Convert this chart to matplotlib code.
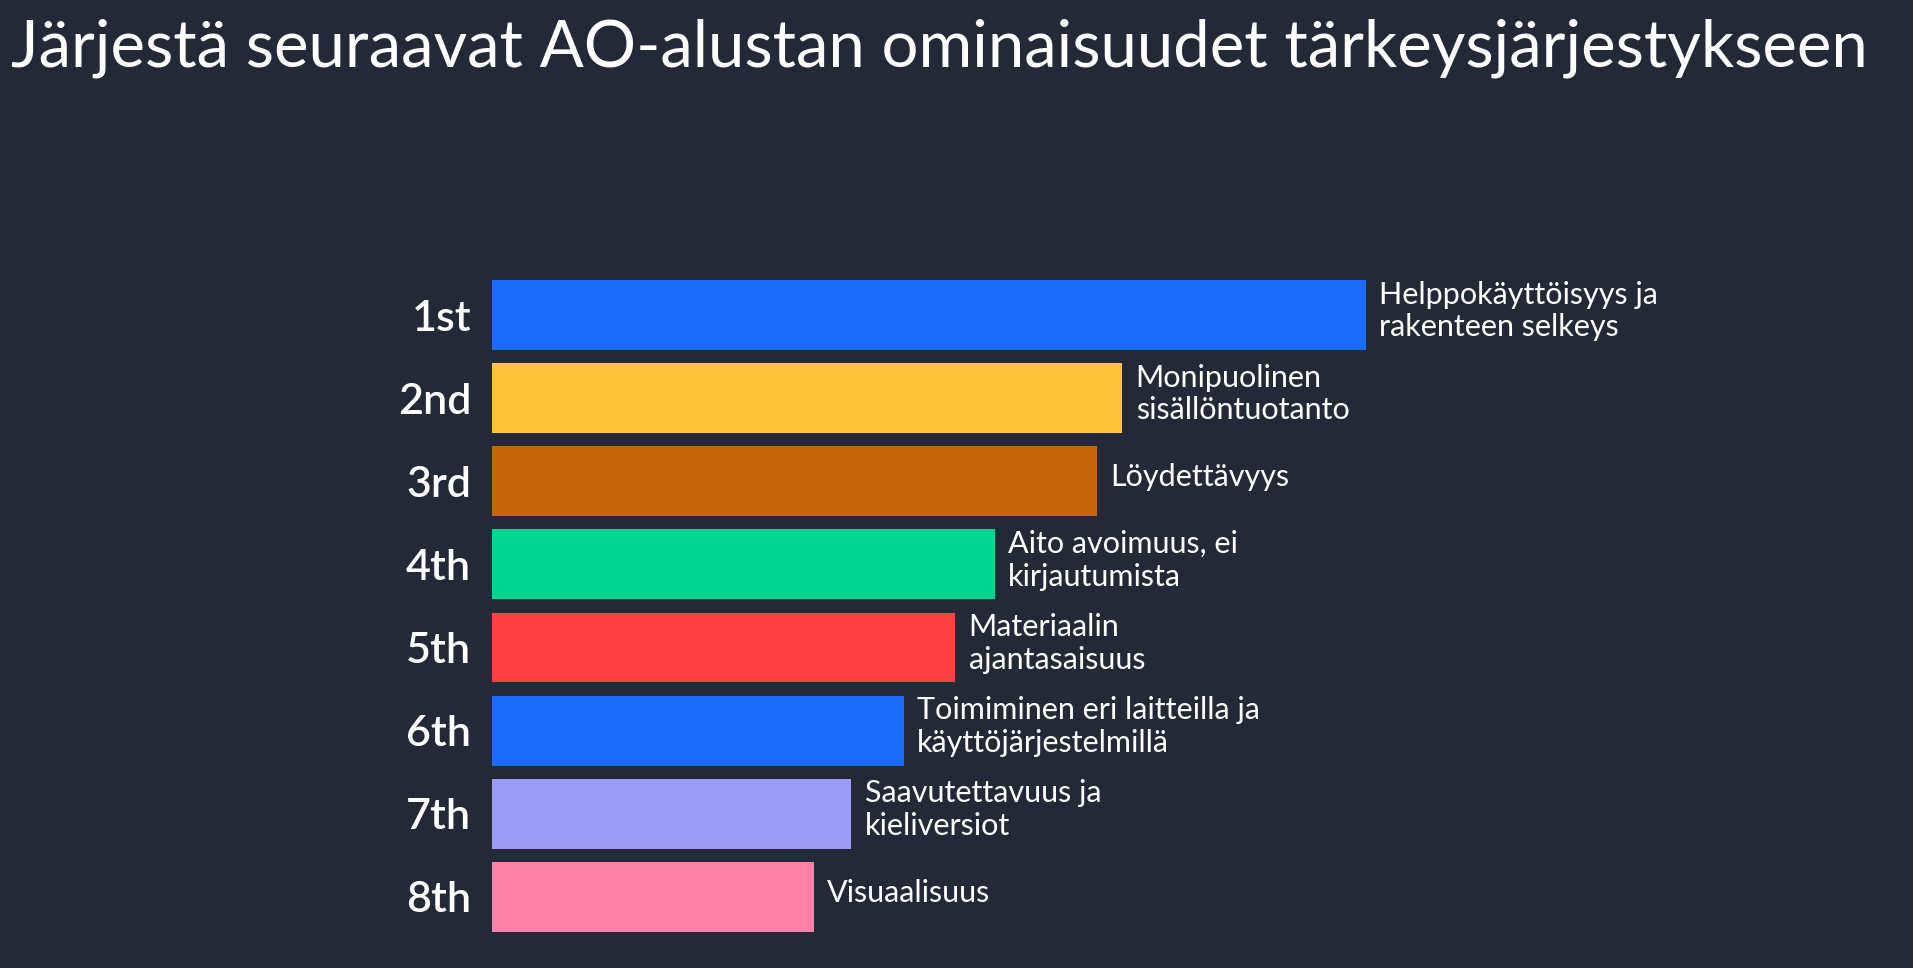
import matplotlib
matplotlib.use('Agg')
from matplotlib import pyplot as plt

plt.rcParams['font.family'] = ['Lato', 'DejaVu Sans']

title = 'Järjestä seuraavat AO-alustan ominaisuudet tärkeysjärjestykseen'
ranks = ['1st', '2nd', '3rd', '4th', '5th', '6th', '7th', '8th']
labels = ['Helppokäyttöisyys ja\nrakenteen selkeys',
          'Monipuolinen\nsisällöntuotanto',
          'Löydettävyys',
          'Aito avoimuus, ei\nkirjautumista',
          'Materiaalin\najantasaisuus',
          'Toimiminen eri laitteilla ja\nkäyttöjärjestelmillä',
          'Saavutettavuus ja\nkieliversiot',
          'Visuaalisuus']
scores = [100, 72.1, 69.2, 57.5, 53.0, 47.1, 41.1, 36.8]
colors = ['#1b6bff', '#ffc43a', '#c8640a', '#00d690',
          '#ff4040', '#1b6bff', '#9b9bf5', '#ff80a8']

bg = '#232936'
fig = plt.figure(figsize=(19.13, 9.68), dpi=100, facecolor=bg)
ax = fig.add_axes([0.2572, 0.0305, 0.457, 0.687])
ax.set_facecolor(bg)

y = list(range(len(ranks)))
ax.barh(y, scores, height=0.84, color=colors)
ax.set_xlim(0, 100)
ax.set_ylim(7.5, -0.5)

for i, (s, lab) in enumerate(zip(scores, labels)):
    ax.annotate(lab, (s, i), xytext=(9.5, 3), textcoords='offset points',
                color='white', fontsize=22, va='center', ha='left',
                linespacing=1.2)

ax.set_yticks(y)
ax.set_yticklabels(ranks, color='white', fontsize=31, fontweight='semibold')
ax.tick_params(axis='y', length=0, pad=15)
ax.set_xticks([])
for sp in ax.spines.values():
    sp.set_visible(False)

fig.text(0.006, 0.95, title, color='white', fontsize=47, va='center', ha='left')

fig.savefig('out.png', facecolor=bg)
